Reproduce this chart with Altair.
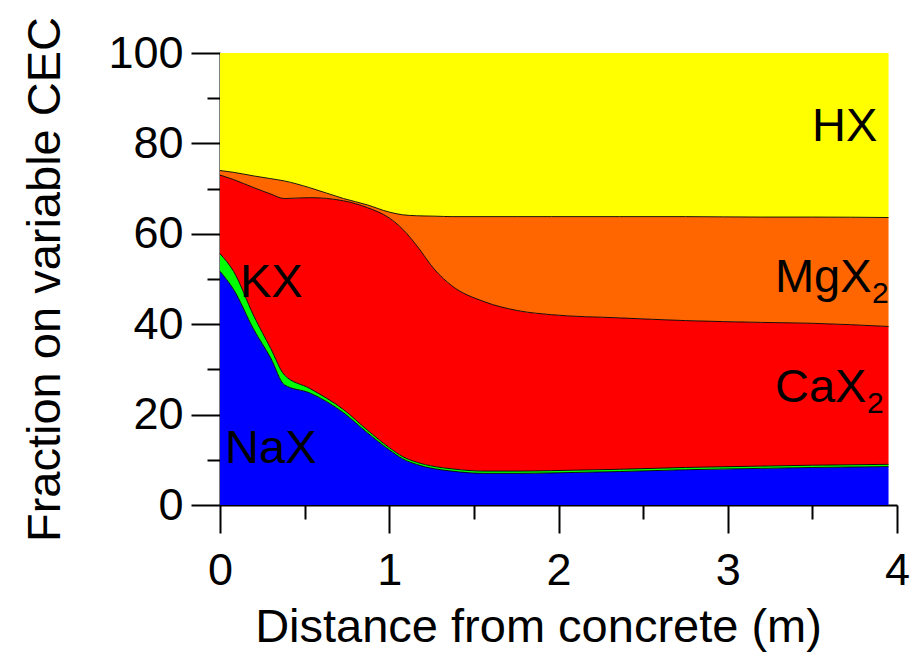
import altair as alt
import pandas as pd

# Distance from concrete (m)
distance = [0, 0.08, 0.2, 0.3, 0.38, 0.53, 0.73, 0.87, 1.0, 1.08, 1.16, 1.27,
            1.37, 1.56, 1.76, 1.96, 2.36, 2.75, 3.2, 3.5, 3.95]
# Cumulative upper boundaries of each exchanger species (%)
nax_top = [51.7, 47.7, 38.8, 32.5, 26.6, 24.8, 20.4, 16.0, 12.2, 10.2, 9.0, 8.0,
           7.5, 7.0, 7.0, 7.1, 7.4, 7.8, 8.1, 8.3, 8.5]
kx_top = [55.6, 51.7, 41.8, 34.6, 28.8, 25.8, 21.1, 16.6, 12.7, 10.7, 9.5, 8.5,
          8.0, 7.5, 7.5, 7.6, 7.9, 8.3, 8.6, 8.8, 9.0]
cax2_top = [73.0, 72.0, 70.2, 68.8, 67.8, 68.0, 67.3, 65.8, 63.5, 61.0, 57.5, 52.0,
            48.5, 45.0, 43.0, 42.1, 41.4, 40.8, 40.4, 40.2, 39.5]
mgx2_top = [74.0, 73.6, 72.8, 72.2, 71.7, 70.2, 67.8, 66.4, 64.8, 64.2, 64.0, 63.9,
            63.8, 63.8, 63.8, 63.8, 63.8, 63.8, 63.7, 63.7, 63.6]
hx_top = [100.0] * len(distance)

species = ["NaX", "KX", "CaX2", "MgX2", "HX"]
colors = ["#0000FF", "#00FF00", "#FF0000", "#FF6600", "#FFFF00"]

# Labels
label_text = ["HX", "MgX", "CaX", "KX", "NaX"]
label_x = [3.498, 3.279, 3.279, 0.118, 0.03]
label_y = [80.5, 47.2, 22.8, 46.1, 9.3]
sub_text = ["2", "2"]
sub_x = [3.852, 3.823]
sub_y = [44.6, 20.4]

bounds = [[0.0] * len(distance), nax_top, kx_top, cax2_top, mgx2_top, hx_top]
rows = []
for i, s in enumerate(species):
    for j, x in enumerate(distance):
        rows.append({"species": s, "order": i, "x": x,
                     "lo": bounds[i][j], "hi": bounds[i + 1][j]})
df = pd.DataFrame(rows)

line_rows = []
for i, s in enumerate(species[:-1]):
    for j, x in enumerate(distance):
        line_rows.append({"boundary": s, "x": x, "v": bounds[i + 1][j]})
ldf = pd.DataFrame(line_rows)

lab_df = pd.DataFrame({"t": label_text, "x": label_x, "y": label_y})
sub_df = pd.DataFrame({"t": sub_text, "x": sub_x, "y": sub_y})

FONT = "Liberation Sans"
xscale = alt.Scale(domain=[0, 4], nice=False, zero=False)
yscale = alt.Scale(domain=[0, 100], nice=False)

xaxis = alt.Axis(
    values=[0, 0.5, 1, 1.5, 2, 2.5, 3, 3.5, 4],
    labelExpr="datum.value % 1 === 0 ? format(datum.value, 'd') : ''",
    tickSize={"condition": {"test": "datum.value % 1 === 0", "value": 28}, "value": 14},
    tickWidth=2, tickColor="black", domainColor="black", domainWidth=2,
    labelFont=FONT, labelFontSize=45, labelColor="black", labelPadding=15,
    grid=False, title="Distance from concrete (m)", titleFont=FONT,
    titleFontSize=47, titleFontWeight="normal", titleColor="black",
    titleX=318, titleY=136, titleBaseline="alphabetic", titleAlign="center",
    labelFlush=False,
)
yaxis = alt.Axis(
    values=[0, 10, 20, 30, 40, 50, 60, 70, 80, 90, 100],
    labelExpr="datum.value % 20 === 0 ? datum.label : ''",
    tickSize={"condition": {"test": "datum.value % 20 === 0", "value": 29}, "value": 13},
    tickWidth=2, tickColor="black", domainColor="black", domainWidth=2,
    labelFont=FONT, labelFontSize=45, labelColor="black", labelPadding=8,
    grid=False, title="Fraction on variable CEC", titleFont=FONT,
    titleFontSize=47, titleFontWeight="normal", titleColor="black",
    titleX=-175, titleY=226, titleBaseline="middle", titleAlign="center",
    titleAngle=-90, labelFlush=False,
)

areas = alt.Chart(df).mark_area(interpolate="monotone").encode(
    x=alt.X("x:Q", scale=xscale, axis=xaxis),
    y=alt.Y("lo:Q", scale=yscale, axis=yaxis),
    y2="hi:Q",
    color=alt.Color("species:N", scale=alt.Scale(domain=species, range=colors), legend=None),
    detail="species:N",
)

lines = alt.Chart(ldf).mark_line(interpolate="monotone", color="black", strokeWidth=0.9).encode(
    x=alt.X("x:Q", scale=xscale),
    y=alt.Y("v:Q", scale=yscale),
    detail="boundary:N",
)

labels = alt.Chart(lab_df).mark_text(
    font=FONT, fontSize=47, align="left", baseline="alphabetic", color="black"
).encode(x=alt.X("x:Q", scale=xscale), y=alt.Y("y:Q", scale=yscale), text="t:N")

subs = alt.Chart(sub_df).mark_text(
    font=FONT, fontSize=30, align="left", baseline="alphabetic", color="black"
).encode(x=alt.X("x:Q", scale=xscale), y=alt.Y("y:Q", scale=yscale), text="t:N")

chart = alt.layer(areas, lines, labels, subs).properties(
    width=677, height=452,
    autosize=alt.AutoSizeParams(type="none"),
    padding={"left": 220, "top": 53, "right": 25, "bottom": 147},
    background="white",
).configure_view(stroke=None)

chart.save("out.html", embed_options={"renderer": "svg", "actions": False})
